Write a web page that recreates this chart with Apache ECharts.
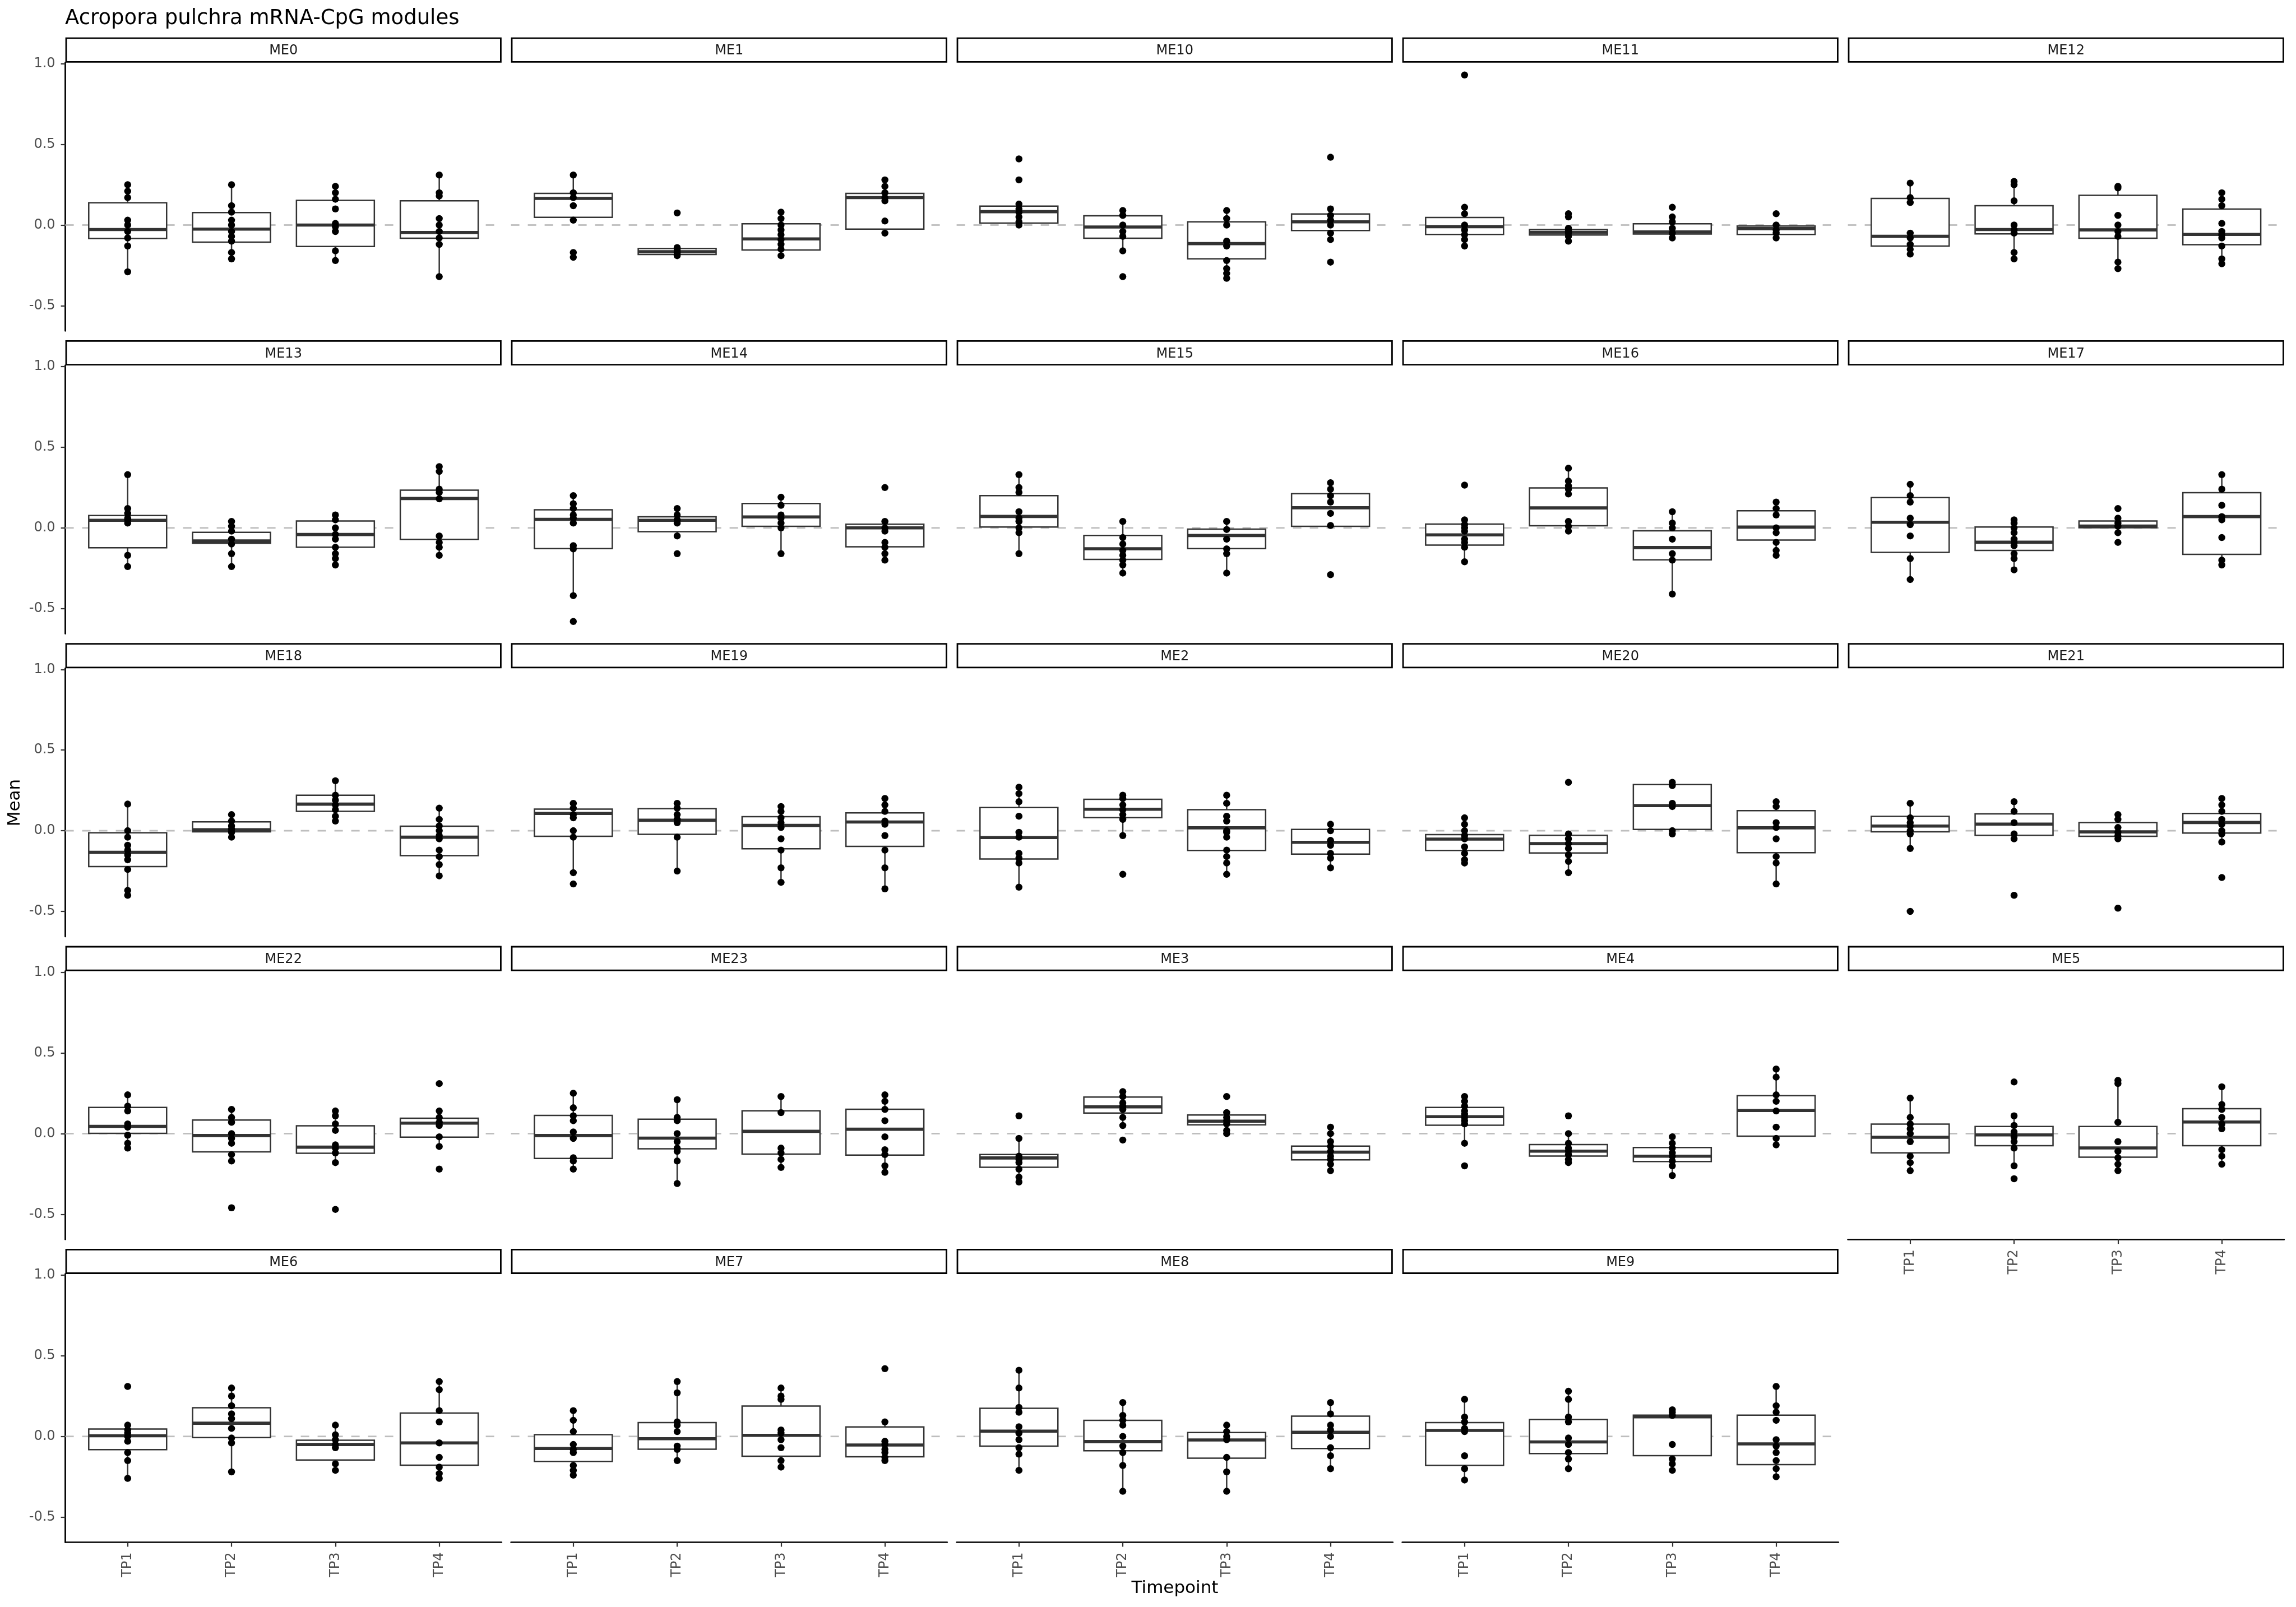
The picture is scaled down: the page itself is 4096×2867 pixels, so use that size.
<!DOCTYPE html>
<html>
<head>
<meta charset="utf-8">
<script src="https://cdn.jsdelivr.net/npm/echarts@6/dist/echarts.min.js"></script>
<style>
html,body{margin:0;padding:0;background:#fff;}
#chart{width:4096px;height:2867px;}
</style>
</head>
<body>
<div id="chart"></div>
<script>
// ---------------- DATA ----------------
const modules = ['ME0','ME1','ME10','ME11','ME12','ME13','ME14','ME15','ME16','ME17',
                 'ME18','ME19','ME2','ME20','ME21','ME22','ME23','ME3','ME4','ME5',
                 'ME6','ME7','ME8','ME9'];
const timepoints = ['TP1','TP2','TP3','TP4'];
const yTickValues = [-0.5, 0, 0.5, 1.0];
const yRange = [-0.656, 1.007];

// box statistics per module, per timepoint: [lowerWhisker, Q1, median, Q3, upperWhisker]
const boxStats = [
  /* ME0 */  [[-0.29,-0.083,-0.028,0.138,0.25],[-0.21,-0.106,-0.025,0.077,0.25],[-0.22,-0.133,0.0,0.153,0.24],[-0.32,-0.082,-0.046,0.15,0.31]],
  /* ME1 */  [[0.027,0.048,0.165,0.196,0.31],[-0.19,-0.182,-0.165,-0.145,-0.14],[-0.2,-0.155,-0.086,0.008,0.087],[-0.064,-0.025,0.17,0.196,0.286]],
  /* ME10 */ [[0.0,0.012,0.083,0.117,0.13],[-0.16,-0.082,-0.012,0.057,0.09],[-0.335,-0.209,-0.115,0.02,0.09],[-0.094,-0.034,0.02,0.069,0.1]],
  /* ME11 */ [[-0.13,-0.058,-0.01,0.047,0.117],[-0.1,-0.062,-0.045,-0.028,-0.02],[-0.08,-0.056,-0.043,0.008,0.05],[-0.08,-0.058,-0.022,-0.006,0.0]],
  /* ME12 */ [[-0.185,-0.13,-0.07,0.165,0.265],[-0.209,-0.055,-0.028,0.12,0.274],[-0.27,-0.082,-0.03,0.184,0.238],[-0.24,-0.122,-0.058,0.099,0.208]],
  /* ME13 */ [[-0.246,-0.123,0.047,0.077,0.33],[-0.24,-0.095,-0.081,-0.028,0.037],[-0.234,-0.12,-0.041,0.043,0.08],[-0.174,-0.071,0.182,0.234,0.385]],
  /* ME14 */ [[-0.42,-0.128,0.053,0.112,0.212],[-0.05,-0.023,0.047,0.069,0.12],[-0.162,0.01,0.068,0.151,0.188],[-0.2,-0.117,0.0,0.023,0.04]],
  /* ME15 */ [[-0.162,0.005,0.071,0.2,0.33],[-0.276,-0.195,-0.129,-0.047,0.05],[-0.276,-0.128,-0.047,-0.008,0.043],[0.01,0.01,0.125,0.212,0.285]],
  /* ME16 */ [[-0.21,-0.107,-0.043,0.024,0.055],[-0.017,0.013,0.124,0.248,0.37],[-0.415,-0.198,-0.122,-0.018,0.098],[-0.174,-0.075,0.005,0.106,0.16]],
  /* ME17 */ [[-0.318,-0.152,0.035,0.188,0.27],[-0.264,-0.14,-0.089,0.005,0.05],[-0.03,0.001,0.011,0.043,0.06],[-0.228,-0.164,0.07,0.218,0.327]],
  /* ME18 */ [[-0.396,-0.222,-0.134,-0.013,0.165],[-0.046,-0.007,0.006,0.055,0.105],[0.05,0.12,0.165,0.22,0.316],[-0.287,-0.154,-0.04,0.028,0.147]],
  /* ME19 */ [[-0.263,-0.034,0.107,0.134,0.169],[-0.245,-0.022,0.065,0.137,0.174],[-0.317,-0.112,0.033,0.087,0.15],[-0.357,-0.097,0.054,0.111,0.2]],
  /* ME2 */  [[-0.347,-0.175,-0.042,0.144,0.274],[-0.034,0.081,0.133,0.195,0.226],[-0.269,-0.122,0.018,0.131,0.226],[-0.233,-0.145,-0.072,0.008,0.045]],
  /* ME20 */ [[-0.215,-0.122,-0.052,-0.024,0.087],[-0.263,-0.138,-0.08,-0.028,-0.01],[-0.028,0.008,0.156,0.286,0.316],[-0.33,-0.136,0.018,0.125,0.19]],
  /* ME21 */ [[-0.11,-0.007,0.029,0.089,0.175],[-0.054,-0.028,0.041,0.105,0.186],[-0.046,-0.034,-0.007,0.051,0.1],[-0.07,-0.014,0.051,0.107,0.195]],
  /* ME22 */ [[-0.088,0.001,0.045,0.162,0.25],[-0.19,-0.113,-0.012,0.084,0.153],[-0.19,-0.122,-0.084,0.048,0.147],[-0.08,-0.022,0.065,0.095,0.147]],
  /* ME23 */ [[-0.227,-0.154,-0.012,0.113,0.25],[-0.314,-0.094,-0.028,0.089,0.22],[-0.215,-0.127,0.014,0.141,0.234],[-0.245,-0.133,0.027,0.151,0.244]],
  /* ME3 */  [[-0.311,-0.209,-0.151,-0.13,-0.034],[0.045,0.127,0.166,0.226,0.262],[0.0,0.054,0.077,0.115,0.13],[-0.239,-0.163,-0.115,-0.078,0.045]],
  /* ME4 */  [[-0.055,0.052,0.105,0.162,0.239],[-0.184,-0.139,-0.109,-0.068,0.007],[-0.26,-0.173,-0.14,-0.086,-0.014],[-0.07,-0.016,0.143,0.235,0.4]],
  /* ME5 */  [[-0.232,-0.119,-0.023,0.059,0.225],[-0.205,-0.075,-0.008,0.044,0.109],[-0.225,-0.146,-0.089,0.044,0.327],[-0.19,-0.075,0.072,0.154,0.286]],
  /* ME6 */  [[-0.261,-0.082,0.004,0.046,0.069],[-0.218,-0.007,0.082,0.178,0.296],[-0.218,-0.146,-0.05,-0.024,0.069],[-0.258,-0.178,-0.04,0.145,0.341]],
  /* ME7 */  [[-0.24,-0.155,-0.075,0.011,0.162],[-0.149,-0.079,-0.014,0.086,0.341],[-0.189,-0.123,0.007,0.188,0.303],[-0.149,-0.126,-0.053,0.059,0.088]],
  /* ME8 */  [[-0.215,-0.06,0.033,0.174,0.413],[-0.336,-0.089,-0.032,0.1,0.212],[-0.336,-0.135,-0.022,0.024,0.066],[-0.2,-0.075,0.026,0.126,0.215]],
  /* ME9 */  [[-0.268,-0.179,0.037,0.086,0.227],[-0.197,-0.106,-0.034,0.105,0.277],[-0.218,-0.119,0.122,0.132,0.165],[-0.247,-0.175,-0.046,0.132,0.308]]
];

// individual sample means per module, per timepoint
const points = [
  /* ME0 */  [[0.25,0.21,0.17,0.03,0.0,-0.04,-0.08,-0.13,-0.29],[0.25,0.12,0.08,0.03,0.0,-0.04,-0.07,-0.1,-0.17,-0.21],[0.24,0.2,0.16,0.1,0.01,-0.01,-0.04,-0.16,-0.22],[0.31,0.2,0.18,0.04,0.0,-0.04,-0.08,-0.12,-0.32]],
  /* ME1 */  [[0.31,0.2,0.17,0.12,0.03,-0.17,-0.2],[0.075,-0.14,-0.15,-0.16,-0.17,-0.18,-0.19],[0.08,0.04,0.0,-0.03,-0.06,-0.09,-0.12,-0.15,-0.19],[0.28,0.24,0.2,0.17,0.15,0.025,-0.05]],
  /* ME10 */ [[0.41,0.28,0.13,0.1,0.08,0.05,0.02,0.0],[0.09,0.06,0.0,-0.04,-0.07,-0.16,-0.32],[0.09,0.04,0.0,-0.1,-0.13,-0.22,-0.27,-0.3,-0.33],[0.42,0.1,0.06,0.03,0.0,-0.05,-0.09,-0.23]],
  /* ME11 */ [[0.93,0.11,0.07,0.0,-0.03,-0.06,-0.09,-0.13],[0.07,0.05,-0.02,-0.04,-0.05,-0.07,-0.1],[0.11,0.05,0.02,-0.02,-0.05,-0.08],[0.07,0.0,-0.03,-0.05,-0.08]],
  /* ME12 */ [[0.26,0.17,0.14,-0.05,-0.08,-0.12,-0.15,-0.18],[0.27,0.25,0.15,0.0,-0.03,-0.05,-0.17,-0.21],[0.24,0.23,0.06,0.0,-0.04,-0.07,-0.23,-0.27],[0.2,0.16,0.12,0.01,-0.04,-0.06,-0.08,-0.13,-0.21,-0.24]],
  /* ME13 */ [[0.33,0.12,0.09,0.06,0.05,0.03,-0.17,-0.24],[0.04,0.01,-0.02,-0.07,-0.1,-0.16,-0.24],[0.08,0.05,0.0,-0.04,-0.07,-0.12,-0.16,-0.19,-0.23],[0.38,0.35,0.24,0.22,0.18,-0.05,-0.09,-0.12,-0.17]],
  /* ME14 */ [[0.2,0.15,0.12,0.08,0.06,0.03,-0.11,-0.13,-0.42,-0.58],[0.12,0.08,0.05,0.03,-0.05,-0.16],[0.19,0.14,0.08,0.06,0.03,0.0,-0.16],[0.25,0.04,0.0,-0.02,-0.09,-0.12,-0.16,-0.2]],
  /* ME15 */ [[0.33,0.25,0.22,0.1,0.06,0.04,0.0,-0.03,-0.16],[0.04,-0.06,-0.1,-0.14,-0.17,-0.2,-0.23,-0.28],[0.04,-0.01,-0.07,-0.13,-0.16,-0.28],[0.28,0.24,0.2,0.16,0.09,0.015,-0.29]],
  /* ME16 */ [[0.265,0.05,0.02,0.0,-0.02,-0.07,-0.09,-0.12,-0.21],[0.37,0.29,0.26,0.24,0.21,0.04,0.01,-0.02],[0.1,0.03,0.0,-0.07,-0.16,-0.2,-0.41],[0.16,0.12,0.08,0.0,-0.03,-0.09,-0.14,-0.17]],
  /* ME17 */ [[0.27,0.2,0.16,0.06,0.02,-0.05,-0.19,-0.32],[0.05,0.03,0.0,-0.03,-0.07,-0.09,-0.11,-0.16,-0.19,-0.26],[0.12,0.06,0.03,0.01,-0.03,-0.09],[0.33,0.24,0.14,0.07,0.05,-0.06,-0.2,-0.23]],
  /* ME18 */ [[0.165,0.0,-0.04,-0.09,-0.12,-0.15,-0.18,-0.24,-0.37,-0.4],[0.1,0.06,0.03,0.01,-0.01,-0.04],[0.31,0.22,0.19,0.16,0.13,0.09,0.06],[0.14,0.07,0.03,0.0,-0.03,-0.05,-0.12,-0.16,-0.21,-0.28]],
  /* ME19 */ [[0.17,0.14,0.1,0.08,0.0,-0.04,-0.26,-0.33],[0.17,0.14,0.1,0.07,0.05,-0.04,-0.25],[0.15,0.12,0.08,0.05,0.02,-0.05,-0.12,-0.23,-0.32],[0.2,0.16,0.12,0.06,0.04,-0.03,-0.12,-0.23,-0.36]],
  /* ME2 */  [[0.27,0.23,0.18,0.09,-0.01,-0.04,-0.14,-0.17,-0.2,-0.35],[0.22,0.2,0.16,0.13,0.1,0.07,-0.03,-0.27],[0.22,0.17,0.09,0.06,0.0,-0.01,-0.04,-0.12,-0.16,-0.2,-0.27],[0.04,0.0,-0.06,-0.09,-0.14,-0.17,-0.23]],
  /* ME20 */ [[0.08,0.04,0.0,-0.03,-0.05,-0.1,-0.14,-0.18,-0.2],[0.3,-0.02,-0.05,-0.08,-0.11,-0.15,-0.19,-0.26],[0.3,0.28,0.17,0.15,0.0,-0.02],[0.18,0.15,0.05,0.02,-0.05,-0.16,-0.2,-0.33]],
  /* ME21 */ [[0.17,0.08,0.05,0.03,0.0,-0.02,-0.11,-0.5],[0.18,0.12,0.05,-0.02,-0.05,-0.4],[0.1,0.07,0.02,-0.01,-0.03,-0.05,-0.48],[0.2,0.16,0.12,0.07,0.04,0.0,-0.02,-0.07,-0.29]],
  /* ME22 */ [[0.24,0.17,0.14,0.06,0.04,-0.01,-0.06,-0.09],[0.15,0.1,0.07,0.0,-0.03,-0.06,-0.13,-0.17,-0.46],[0.14,0.11,0.06,0.02,-0.07,-0.09,-0.12,-0.18,-0.47],[0.31,0.14,0.1,0.07,0.05,-0.02,-0.08,-0.22]],
  /* ME23 */ [[0.25,0.16,0.11,0.08,0.01,-0.03,-0.15,-0.17,-0.22],[0.21,0.1,0.08,0.0,-0.05,-0.09,-0.11,-0.17,-0.31],[0.23,0.13,-0.09,-0.12,-0.16,-0.21],[0.24,0.2,0.15,0.08,-0.02,-0.1,-0.13,-0.2,-0.24]],
  /* ME3 */  [[0.11,-0.03,-0.14,-0.16,-0.18,-0.22,-0.27,-0.3],[0.26,0.23,0.19,0.17,0.15,0.1,0.05,-0.04],[0.23,0.13,0.1,0.08,0.06,0.02,0.0],[0.04,0.0,-0.05,-0.08,-0.11,-0.14,-0.16,-0.19,-0.23]],
  /* ME4 */  [[0.23,0.2,0.17,0.14,0.12,0.1,0.08,0.06,-0.06,-0.2],[0.11,0.0,-0.06,-0.09,-0.11,-0.13,-0.16,-0.18],[-0.02,-0.06,-0.09,-0.12,-0.14,-0.17,-0.2,-0.26],[0.4,0.35,0.24,0.2,0.14,0.04,-0.03,-0.07]],
  /* ME5 */  [[0.22,0.1,0.06,0.03,0.0,-0.05,-0.14,-0.18,-0.23],[0.32,0.11,0.05,0.01,-0.02,-0.05,-0.09,-0.2,-0.28],[0.33,0.31,0.07,-0.05,-0.11,-0.15,-0.19,-0.23],[0.29,0.18,0.15,0.1,0.06,0.03,-0.1,-0.14,-0.19]],
  /* ME6 */  [[0.31,0.07,0.04,0.02,0.0,-0.03,-0.1,-0.15,-0.26],[0.3,0.25,0.19,0.14,0.11,0.05,-0.01,-0.04,-0.22],[0.07,0.01,-0.02,-0.05,-0.07,-0.17,-0.21],[0.34,0.29,0.16,0.09,-0.04,-0.13,-0.19,-0.23,-0.26]],
  /* ME7 */  [[0.16,0.1,0.03,-0.05,-0.08,-0.1,-0.18,-0.21,-0.24],[0.34,0.27,0.09,0.07,0.03,-0.06,-0.08,-0.15],[0.3,0.25,0.23,0.04,0.02,-0.02,-0.07,-0.15,-0.19],[0.42,0.09,-0.03,-0.05,-0.08,-0.1,-0.13,-0.15]],
  /* ME8 */  [[0.41,0.3,0.18,0.15,0.06,0.02,-0.02,-0.07,-0.11,-0.21],[0.21,0.13,0.1,0.07,0.0,-0.06,-0.1,-0.18,-0.34],[0.07,0.03,0.0,-0.02,-0.13,-0.22,-0.34],[0.21,0.14,0.07,0.04,0.0,-0.07,-0.12,-0.2]],
  /* ME9 */  [[0.23,0.12,0.09,0.05,0.03,-0.12,-0.2,-0.27],[0.28,0.23,0.12,0.09,-0.01,-0.05,-0.1,-0.14,-0.2],[0.165,0.15,0.13,-0.05,-0.14,-0.17,-0.21],[0.31,0.19,0.15,0.1,-0.02,-0.06,-0.1,-0.15,-0.2,-0.25]]
];

// ---------------- LAYOUT ----------------
const FONT = 'DejaVu Sans';
const NCOL = 5;
const colLeft0 = 116.6, colStride = 795.0, panelW = 778.2;
const rowZero0 = 401.5, rowStride = 540.3, unitPx = 287.8;
const panelH = (yRange[1] - yRange[0]) * unitPx;
const stripH = 45;
const xMin = 0.4, xMax = 4.6;

const chart = echarts.init(document.getElementById('chart'), null, {renderer: 'canvas'});

const grids = [], xAxes = [], yAxes = [], series = [], graphics = [];

function renderBox(params, api) {
  const x = api.value(0);
  const low = api.coord([x, api.value(1)]);
  const q1 = api.coord([x, api.value(2)]);
  const med = api.coord([x, api.value(3)]);
  const q3 = api.coord([x, api.value(4)]);
  const high = api.coord([x, api.value(5)]);
  const half = api.size([0.375, 0])[0];
  const st = {stroke: '#333333', lineWidth: 2.5};
  return {
    type: 'group',
    children: [
      {type: 'line', shape: {x1: low[0], y1: low[1], x2: q1[0], y2: q1[1]}, style: st},
      {type: 'line', shape: {x1: q3[0], y1: q3[1], x2: high[0], y2: high[1]}, style: st},
      {type: 'rect', shape: {x: q3[0] - half, y: q3[1], width: 2 * half, height: q1[1] - q3[1]},
       style: {fill: '#ffffff', stroke: '#333333', lineWidth: 2.5}},
      {type: 'line', shape: {x1: med[0] - half, y1: med[1], x2: med[0] + half, y2: med[1]},
       style: {stroke: '#333333', lineWidth: 5.6}}
    ]
  };
}

modules.forEach((name, k) => {
  const col = k % NCOL, row = Math.floor(k / NCOL);
  const left = colLeft0 + col * colStride;
  const zeroY = rowZero0 + row * rowStride;
  const top = zeroY - yRange[1] * unitPx;
  const showY = col === 0;
  const showX = (row === 4) || (row === 3 && col === 4);

  grids.push({left: left, top: top, width: panelW, height: panelH, containLabel: false});

  xAxes.push({
    gridIndex: k, type: 'value', min: xMin, max: xMax,
    splitLine: {show: false},
    axisLine: {show: showX, onZero: false, lineStyle: {color: '#000000', width: 2.6}},
    axisTick: {show: showX, customValues: [1, 2, 3, 4], length: 8, lineStyle: {color: '#333333', width: 2.2}},
    axisLabel: {show: showX, customValues: [1, 2, 3, 4], rotate: 90, margin: 18,
      formatter: v => timepoints[Math.round(v) - 1],
      color: '#4D4D4D', fontSize: 24, fontFamily: FONT}
  });

  yAxes.push({
    gridIndex: k, type: 'value', min: yRange[0], max: yRange[1],
    splitLine: {show: false},
    axisLine: {show: showY, onZero: false, lineStyle: {color: '#000000', width: 2.8}},
    axisTick: {show: showY, customValues: yTickValues, length: 8, lineStyle: {color: '#333333', width: 2.2}},
    axisLabel: {show: showY, customValues: yTickValues, margin: 18,
      formatter: v => v.toFixed(1),
      color: '#4D4D4D', fontSize: 24, fontFamily: FONT}
  });

  // dashed zero reference line
  series.push({
    type: 'line', xAxisIndex: k, yAxisIndex: k, silent: true, symbol: 'none', z: 1,
    data: [[xMin, 0], [xMax, 0]],
    lineStyle: {color: '#BEBEBE', width: 2.8, type: [15, 15]}
  });

  // boxes
  series.push({
    type: 'custom', xAxisIndex: k, yAxisIndex: k, z: 2, silent: true,
    renderItem: renderBox,
    encode: {x: 0, y: [1, 2, 3, 4, 5]},
    data: boxStats[k].map((b, i) => [i + 1].concat(b))
  });

  // points
  const pts = [];
  points[k].forEach((arr, i) => arr.forEach(v => pts.push([i + 1, v])));
  series.push({
    type: 'scatter', xAxisIndex: k, yAxisIndex: k, z: 3, silent: true,
    symbol: 'circle', symbolSize: 12.5,
    itemStyle: {color: '#000000', opacity: 1},
    data: pts
  });

  // strip
  graphics.push({
    type: 'rect', silent: true,
    shape: {x: left + 1.4, y: top - stripH + 1.4, width: panelW - 2.8, height: stripH - 2.8},
    style: {fill: '#ffffff', stroke: '#000000', lineWidth: 2.8}
  });
  graphics.push({
    type: 'text', silent: true, x: left + panelW / 2, y: top - stripH / 2 + 2,
    style: {text: name, fill: '#1A1A1A', font: '24px "' + FONT + '"', align: 'center', verticalAlign: 'middle'}
  });
});

// title and axis titles
graphics.push({
  type: 'text', silent: true, x: 116, y: 33,
  style: {text: 'Acropora pulchra mRNA-CpG modules', fill: '#000000', font: '37px "' + FONT + '"', align: 'left', verticalAlign: 'middle'}
});
graphics.push({
  type: 'text', silent: true, x: 2096, y: 2834,
  style: {text: 'Timepoint', fill: '#000000', font: '31px "' + FONT + '"', align: 'center', verticalAlign: 'middle'}
});
graphics.push({
  type: 'text', silent: true, x: 27, y: 1432, rotation: Math.PI / 2,
  style: {text: 'Mean', fill: '#000000', font: '31px "' + FONT + '"', align: 'center', verticalAlign: 'middle'}
});

chart.setOption({
  animation: false,
  backgroundColor: '#ffffff',
  grid: grids,
  xAxis: xAxes,
  yAxis: yAxes,
  series: series,
  graphic: graphics
});
</script>
</body>
</html>
